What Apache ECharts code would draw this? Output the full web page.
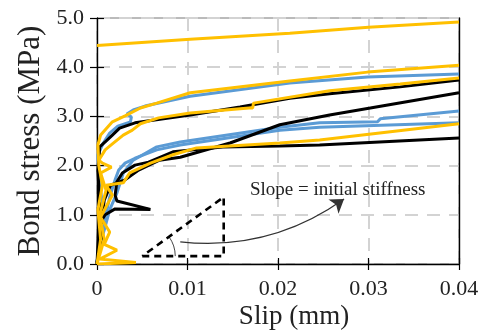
<!DOCTYPE html>
<html><head><meta charset="utf-8">
<script src="https://cdn.jsdelivr.net/npm/echarts@6/dist/echarts.min.js"></script>
<style>html,body{margin:0;padding:0;background:#fff}#c{width:485px;height:335px}</style>
</head><body><div id="c"></div>
<script>
// ---- data (slip mm, bond stress MPa) ----
const yellowA = [[0,4.44],[0.0103,4.57],[0.0213,4.69],[0.0300,4.81],[0.0400,4.92]];
const yellowB = [[0,0],[0.0004,0.5],[0.0001,1.1],[0.0006,1.6],[0.0002,2.0],[0.0001,2.42],[0.0004,2.62],[0.0017,2.89],[0.0031,3.01],[0.0048,3.17],[0.0066,3.27],[0.0103,3.48],[0.0213,3.72],[0.0299,3.90],[0.0400,4.04]];
const yellowC = [[0,0],[0.0008,0.5],[0.0003,1.0],[0.0010,1.5],[0.0004,1.85],[0.0016,1.97],[0.0006,2.05],[0.0002,2.11],[0.0009,2.32],[0.0017,2.44],[0.0029,2.62],[0.0039,2.72],[0.0048,2.85],[0.0068,2.97],[0.0103,3.07],[0.0168,3.17],[0.0172,3.17],[0.0173,3.27],[0.0257,3.52],[0.0335,3.66],[0.0400,3.78]];
const yellowD = [[0,0],[0.0043,0.03],[0.0003,0.10],[0.0022,0.28],[0.0008,0.40],[0.0014,0.65],[0.0004,0.95],[0.0011,1.20],[0.0017,1.40],[0.0010,1.60],[0.0029,1.65],[0.0036,1.85],[0.0059,2.05],[0.0084,2.22],[0.0110,2.36],[0.0202,2.46],[0.0246,2.52],[0.0400,2.85]];
const blueA = [[0,0],[0.0003,0.6],[0.0006,1.2],[0.0002,1.8],[0.0001,2.22],[0.0007,2.46],[0.0014,2.66],[0.0023,2.80],[0.0037,2.89],[0.0038,2.99],[0.0033,3.05],[0.0040,3.13],[0.0053,3.21],[0.0103,3.41],[0.0213,3.68],[0.0299,3.80],[0.0400,3.86]];
const blueB = [[0,0],[0.0003,0.39],[0.0008,0.69],[0.0014,1.10],[0.0022,1.44],[0.0029,1.85],[0.0040,2.11],[0.0066,2.38],[0.0092,2.48],[0.0202,2.78],[0.0246,2.87],[0.0310,2.89],[0.0313,2.95],[0.0400,3.11]];
const blueC = [[0,0],[0.0002,0.39],[0.0006,0.75],[0.0011,1.10],[0.0014,1.36],[0.0020,1.71],[0.0024,1.91],[0.0031,2.05],[0.0042,2.15],[0.0066,2.32],[0.0092,2.42],[0.0202,2.72],[0.0246,2.78],[0.0400,2.87]];
const blackA = [[0,0],[0.0003,1.2],[0.0001,1.9],[0.0002,2.11],[0.0003,2.38],[0.0009,2.48],[0.0017,2.62],[0.0025,2.76],[0.0042,2.87],[0.0103,3.03],[0.0158,3.19],[0.0213,3.37],[0.0257,3.46],[0.0335,3.60],[0.0400,3.74]];
const blackB = [[0,0],[0.0004,0.7],[0.0008,1.3],[0.0015,1.6],[0.0031,1.71],[0.0046,1.91],[0.0069,2.11],[0.0092,2.17],[0.0147,2.46],[0.0202,2.83],[0.0257,3.03],[0.0302,3.17],[0.0400,3.48]];
const blackC = [[0,0],[0.0002,0.3],[0.0006,0.6],[0.0003,0.83],[0.0009,1.0],[0.0020,1.12],[0.0059,1.11],[0.0022,1.28],[0.0020,1.40],[0.0022,1.67],[0.0028,1.85],[0.0042,2.01],[0.0057,2.07],[0.0084,2.28],[0.0139,2.38],[0.0202,2.40],[0.0246,2.42],[0.0400,2.56]];

// annotation (data units)
const triangle = [[0.0050,0.16],[0.0140,0.16],[0.0140,1.36],[0.0050,0.16]];
const arrowPath = [[0.0092,0.45],[0.0273,1.32]];
const noteAnchor = [0.0266,1.50];
const noteText = 'Slope = initial stiffness';

// axes
const xMin = 0, xMax = 0.04, xStep = 0.01;
const yMin = 0, yMax = 5, yStep = 1;
const xTitle = 'Slip (mm)';
const yTitle = 'Bond stress (MPa)';

const FONT = '"Liberation Serif","Times New Roman",serif';
const YEL = '#FFC000', BLU = '#5B9BD5', BLK = '#000000';
const curves = [
  [blueA, BLU],[blueB, BLU],[blueC, BLU],
  [blackA, BLK],[blackB, BLK],[blackC, BLK],
  [yellowA, YEL],[yellowB, YEL],[yellowC, YEL],[yellowD, YEL]
];

const chart = echarts.init(document.getElementById('c'));
const gridLine = {show:true, lineStyle:{color:'#d3d3d3', width:2, type:[13,9]}};
const baseX = {type:'value', min:xMin, max:xMax, interval:xStep, position:'bottom'};
const baseY = {type:'value', min:yMin, max:yMax, interval:yStep, position:'left'};

const series = curves.map(([d,c]) => ({
  type:'line', data:d, showSymbol:false, symbol:'none', smooth:false,
  lineStyle:{color:c, width:3}, xAxisIndex:0, yAxisIndex:0, animation:false, z:3
}));
series.push({
  type:'line', data:triangle, symbol:'none', xAxisIndex:0, yAxisIndex:0, animation:false, z:4,
  lineStyle:{color:'#000', width:2.6, type:[7,5]}
});
series.push({
  type:'custom', xAxisIndex:0, yAxisIndex:0, data:[triangle[0]], animation:false, z:4,
  renderItem:function(params, api){
    const a = api.coord([api.value(0), api.value(1)]);
    const b = api.coord(triangle[2]);
    const ang = Math.atan2(a[1]-b[1], b[0]-a[0]);
    return {type:'arc', shape:{cx:a[0], cy:a[1], r:33, startAngle:-ang, endAngle:0, clockwise:true},
      style:{stroke:'#444', fill:null, lineWidth:1}};
  }
});
series.push({
  type:'lines', coordinateSystem:'cartesian2d', xAxisIndex:0, yAxisIndex:0, animation:false, z:4,
  symbol:['none','arrow'], symbolSize:13,
  lineStyle:{color:'#333', width:1.2, curveness:-0.19, opacity:1},
  data:[{coords:arrowPath}]
});
series.push({
  type:'custom', xAxisIndex:0, yAxisIndex:0, data:[noteAnchor], animation:false, z:5,
  renderItem:function(params, api){
    const p = api.coord([api.value(0), api.value(1)]);
    return {type:'text', x:p[0], y:p[1], style:{text:noteText, fill:'#222', font:'19px '+FONT, align:'center', verticalAlign:'middle'}};
  }
});

chart.setOption({
  animation:false,
  backgroundColor:'#fff',
  grid:{left:97, right:26, top:18, bottom:71, show:true, borderColor:'#777', borderWidth:1, backgroundColor:'transparent'},
  xAxis:[
    Object.assign({}, baseX, {
      axisLine:{show:true, onZero:false, lineStyle:{color:'#000', width:1.4}},
      axisTick:{show:true, inside:false, length:6, lineStyle:{color:'#000', width:1.2}},
      axisLabel:{margin:14, color:'#222', fontFamily:FONT, fontSize:22,
        formatter:v => v===0 ? '0' : v.toFixed(2)},
      splitLine:gridLine
    }),
    Object.assign({}, baseX, {
      axisLine:{show:false, onZero:false},
      axisTick:{show:true, inside:true, length:6, lineStyle:{color:'#000', width:1.2}},
      axisLabel:{show:false}, splitLine:{show:false}
    })
  ],
  yAxis:[
    Object.assign({}, baseY, {
      axisLine:{show:true, onZero:false, lineStyle:{color:'#000', width:1.4}},
      axisTick:{show:true, inside:false, length:7, lineStyle:{color:'#000', width:1.2}},
      axisLabel:{margin:13, color:'#222', fontFamily:FONT, fontSize:22,
        formatter:v => v.toFixed(1)},
      splitLine:gridLine
    }),
    Object.assign({}, baseY, {
      axisLine:{show:false, onZero:false},
      axisTick:{show:true, inside:true, length:7, lineStyle:{color:'#000', width:1.2}},
      axisLabel:{show:false}, splitLine:{show:false}
    }),
    Object.assign({}, baseY, {
      position:'right',
      axisLine:{show:true, onZero:false, lineStyle:{color:'#000', width:1.4}},
      axisTick:{show:false}, axisLabel:{show:false}, splitLine:{show:false}
    })
  ],
  graphic:[
    {type:'text', x:294, y:317, style:{text:xTitle, fill:'#222', font:'27px '+FONT, align:'center', verticalAlign:'middle'}},
    {type:'text', x:31, y:141, rotation:Math.PI/2, style:{text:yTitle, fill:'#222', font:'31px '+FONT, align:'center', verticalAlign:'middle'}}
  ],
  series:series
});
</script>
</body></html>
